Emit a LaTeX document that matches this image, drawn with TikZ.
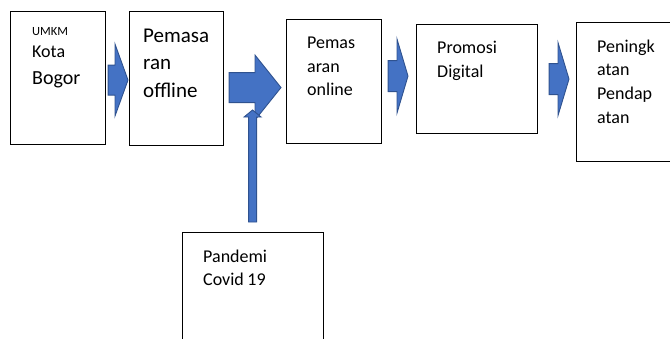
\documentclass[tikz,border=0pt]{standalone}
\usepackage{fontspec}
\setmainfont{Carlito}
\usepackage{tikz}
\usetikzlibrary{calc}
\definecolor{panahisi}{HTML}{4472C4}
\definecolor{panahgaris}{HTML}{2F528F}

\begin{document}
\begin{tikzpicture}[x=1pt, y=-1pt,
    kotak/.style={draw, line width=1.1pt, anchor=north west, inner sep=0pt},
    teks/.style={anchor=base west, inner sep=0pt, align=left, text width=100pt},
    blok/.style n args={3}{draw=panahgaris, fill=panahisi, line width=0.9pt, to path={
        let \p1=(\tikztostart), \p2=(\tikztotarget) in
        (\x1,\y1+#1) -- (\x2-#3,\y1+#1) -- (\x2-#3,\y1+#2) -- (\x2,\y2)
        -- (\x2-#3,\y1-#2) -- (\x2-#3,\y1-#1) -- (\x1,\y1-#1) -- cycle}},
    blokatas/.style n args={3}{draw=panahgaris, fill=panahisi, line width=0.9pt, to path={
        let \p1=(\tikztostart), \p2=(\tikztotarget) in
        (\x1-#1,\y1) -- (\x1-#1,\y2-#3) -- (\x1-#2,\y2-#3) -- (\x1,\y2)
        -- (\x1+#2,\y2-#3) -- (\x1+#1,\y2-#3) -- (\x1+#1,\y1) -- cycle}}]
    \useasboundingbox (0,0) rectangle (670,338);
    % Boxes
    \foreach \nama/\x/\y/\w/\h in {umkm/10/11/95/133, offline/129/11/94/134,
        online/286/19/95/124, promosi/416/24/121/109,
        pendapatan/576/22/100/139, pandemi/182/232/141/120}
        \node[kotak, minimum width=\w pt, minimum height=\h pt] (\nama) at (\x,\y) {};
    % Texts
    \node[teks] (umkmteks) at (32,35) {{\fontsize{12.5}{15}\selectfont UMKM\par}
        {\fontsize{18}{22.5}\selectfont Kota\par}{\fontsize{20}{27}\selectfont Bogor\par}};
    \node[teks, font=\fontsize{21}{27.7}\selectfont] (offlineteks) at (143,42) {Pemasa\\ran\\offline};
    \node[teks, font=\fontsize{18}{23.5}\selectfont] (onlineteks) at (307,48.5) {Pemas\\aran\\online};
    \node[teks, font=\fontsize{18}{24}\selectfont] (promositeks) at (437,53) {Promosi\\Digital};
    \node[teks, font=\fontsize{18}{23.7}\selectfont] (pendapatanteks) at (597,52) {Peningk\\atan\\Pendap\\atan};
    \node[teks, font=\fontsize{18}{23.3}\selectfont] (pandemiteks) at (203,262) {Pandemi\\Covid\kern-2.5pt\ 19};
    % Arrow ends
    \coordinate (a1) at ($(umkm.east)+(2,2)$);
    \coordinate (b1) at ($(offline.west)+(-1,1.5)$);
    \coordinate (a2) at ($(offline.east)+(5,9)$);
    \coordinate (b2) at ($(online.west)+(-5,6)$);
    \coordinate (a3) at ($(online.east)+(6,-5.5)$);
    \coordinate (b3) at ($(promosi.west)+(-8,-3)$);
    \coordinate (a4) at ($(promosi.east)+(11,0)$);
    \coordinate (b4) at ($(pendapatan.west)+(-7,-13)$);
    \coordinate (v1) at ($(pandemi.north)+(-0.5,-10)$);
    \coordinate (v2) at ($(v1)+(0,-112)$);
    % Block arrows
    \draw[blok={15pt}{36pt}{13pt}] (a1) to (b1);
    \draw[blok={15pt}{32.5pt}{26pt}] (a2) to (b2);
    \draw[blok={15.5pt}{37pt}{11pt}] (a3) to (b3);
    \draw[blok={15.5pt}{36.5pt}{11pt}] (a4) to (b4);
    \draw[blokatas={4pt}{8.5pt}{7pt}] (v1) to (v2);
\end{tikzpicture}
\end{document}
